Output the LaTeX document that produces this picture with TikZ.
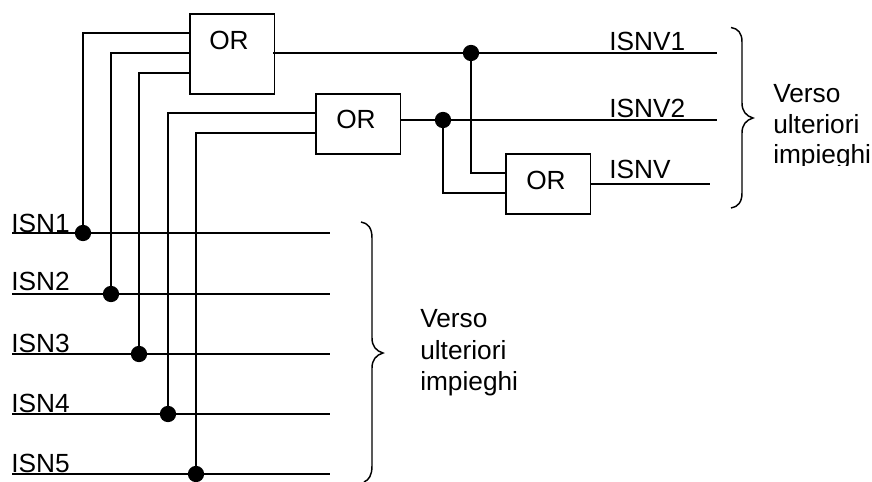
\documentclass[tikz,border=0pt]{standalone}
\usepackage{fontspec}
\setmainfont{Liberation Sans}
\tikzset{
  wire/.style={line width=1.3pt,black},
  gate/.style={draw,line width=1.3pt,fill=white,anchor=north west,inner sep=0pt,minimum width=63.5pt},
  gatetext/.style={anchor=base,inner sep=0pt,font=\fontsize{19.7}{23}\selectfont},
  lab/.style={anchor=base west,inner sep=0pt,font=\fontsize{19.7}{23}\selectfont},
  joint/.style={circle,fill=black,inner sep=0pt,minimum size=12.2pt},
  bracecurve/.style={line width=1.1pt,black}
}
\begin{document}
\begin{tikzpicture}[x=0.75pt,y=-0.75pt]
\useasboundingbox (0,0) rectangle (872,482);
% line ends
\coordinate (L1) at (12,233); \coordinate (R1) at (330,233);
\coordinate (L2) at (12,294); \coordinate (R2) at (330,294);
\coordinate (L3) at (12,354); \coordinate (R3) at (330,354);
\coordinate (L4) at (12,414); \coordinate (R4) at (330,414);
\coordinate (L5) at (12,474); \coordinate (R5) at (330,474);
\coordinate (endV1) at (717,53);
\coordinate (endV2) at (717,120);
\coordinate (endV) at (710,184);
% gates
\node[gate,minimum height=60pt] (g1) at (189,13) {};
\node[gate,minimum height=45pt] (g2) at (315,93) {};
\node[gate,minimum height=45pt] (g3) at (505,153) {};
\coordinate (g1a) at (189,33); \coordinate (g1b) at (189,53); \coordinate (g1c) at (189,73);
\coordinate (g1o) at (273,53);
\coordinate (g2a) at (315,113); \coordinate (g2b) at (315,133);
\coordinate (g2o) at (400,120);
\coordinate (g3a) at (505,173); \coordinate (g3b) at (505,193);
\coordinate (g3o) at (590,184);
% joints
\node[joint] (j1) at (83,233) {};
\node[joint] (j2) at (111,294) {};
\node[joint] (j3) at (139,354) {};
\node[joint] (j4) at (168,414) {};
\node[joint] (j5) at (196,474) {};
\node[joint] (j6) at (471,53) {};
\node[joint] (j7) at (443,120) {};
% wires
\draw[wire] (L1) -- (R1);
\draw[wire] (L2) -- (R2);
\draw[wire] (L3) -- (R3);
\draw[wire] (L4) -- (R4);
\draw[wire] (L5) -- (R5);
\draw[wire] (j1.center) |- (g1a);
\draw[wire] (j2.center) |- (g1b);
\draw[wire] (j3.center) |- (g1c);
\draw[wire] (j4.center) |- (g2a);
\draw[wire] (j5.center) |- (g2b);
\draw[wire] (g1o) -- (endV1);
\draw[wire] (g2o) -- (endV2);
\draw[wire] (g3o) -- (endV);
\draw[wire] (j6.center) |- (g3a);
\draw[wire] (j7.center) |- (g3b);
% gate labels
\node[gatetext] (t1) at (229,49) {OR};
\node[gatetext] (t2) at (356,128) {OR};
\node[gatetext] (t3) at (546,189) {OR};
% signal labels
\node[lab] (s1) at (11,232) {ISN1};
\node[lab] (s2) at (11,290) {ISN2};
\node[lab] (s3) at (11,352) {ISN3};
\node[lab] (s4) at (11,412) {ISN4};
\node[lab] (s5) at (11,472) {ISN5};
\node[lab] (v1) at (609,50) {ISNV1};
\node[lab] (v2) at (609,117) {ISNV2};
\node[lab] (v3) at (609,178) {ISNV};
% right text
\node[lab] (a1) at (773,102) {Verso};
\node[lab] (a2) at (773,133) {ulteriori};
\begin{scope}
\clip (760,140) rectangle (872,165.7);
\node[lab] (a3) at (773,163) {impieghi};
\end{scope}
\node[lab] (b1) at (420,327.5) {Verso};
\node[lab] (b2) at (420,359) {ulteriori};
\node[lab] (b3) at (420,390) {impieghi};
% braces
\draw[bracecurve] (731,27.5) .. controls (738,28.5) and (742,33) .. (742,42) -- (742,103)
  .. controls (742,111) and (746,116) .. (753,118)
  .. controls (746,120) and (742,125) .. (742,133) -- (742,193)
  .. controls (742,202) and (738,207) .. (731,208);
\draw[bracecurve] (361,222) .. controls (368,223) and (372,228) .. (372,238) -- (372,338)
  .. controls (372,346) and (376,351) .. (383,353)
  .. controls (376,355) and (372,360) .. (372,368) -- (372,466)
  .. controls (372,475) and (369,480) .. (364,482);
\end{tikzpicture}
\end{document}
